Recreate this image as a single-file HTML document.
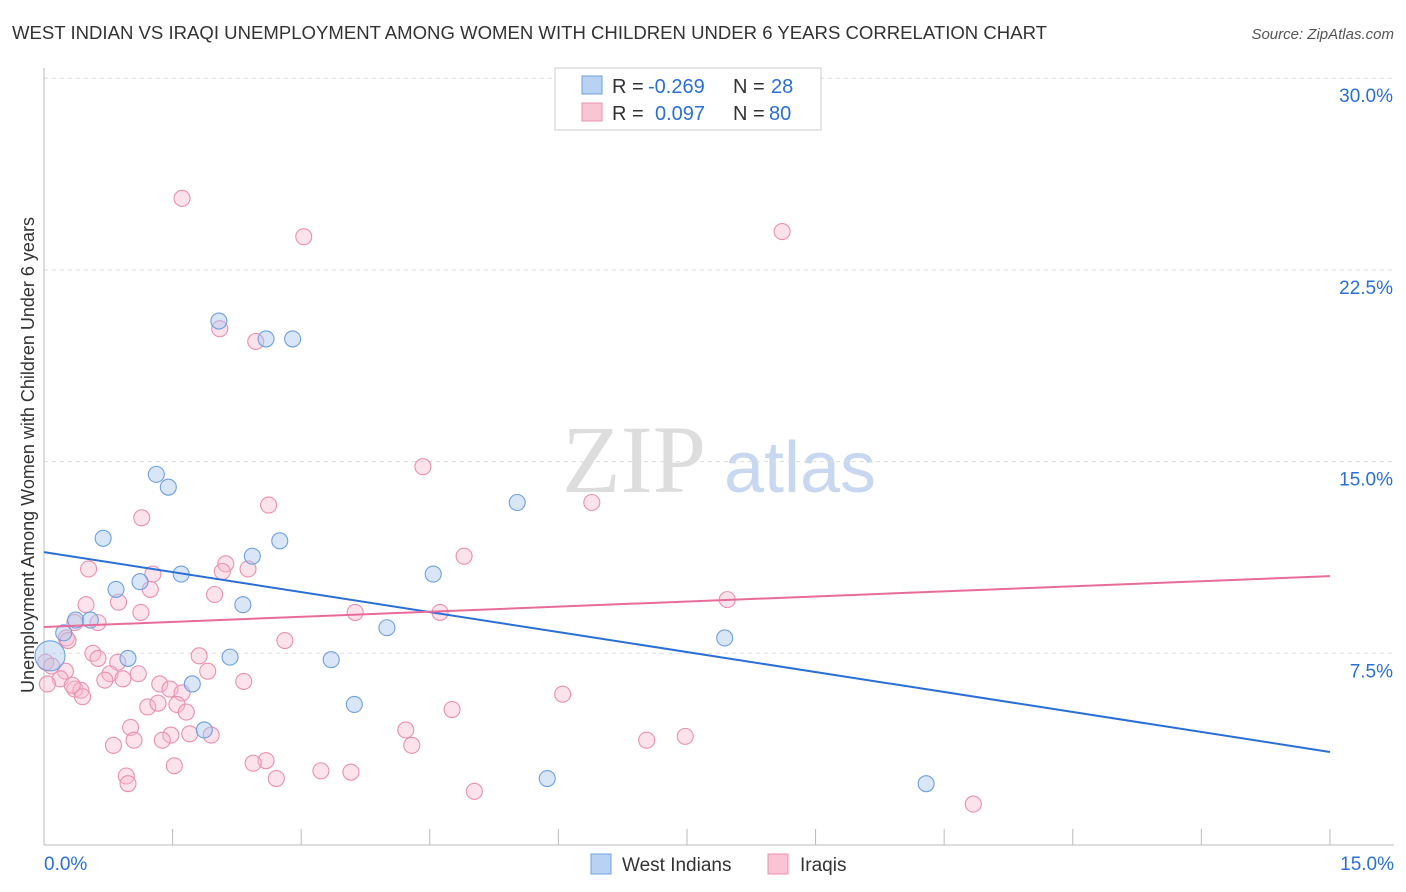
<!DOCTYPE html>
<html><head><meta charset="utf-8"><style>
body{margin:0;background:#fff;font-family:"Liberation Sans",sans-serif;}
#wrap{position:relative;width:1406px;height:892px;overflow:hidden}
</style></head><body>
<div id="wrap">
<svg id="svg" width="1406" height="892" xmlns="http://www.w3.org/2000/svg">
<text x="12" y="39" font-size="18.5" fill="#333" textLength="1035" lengthAdjust="spacingAndGlyphs">WEST INDIAN VS IRAQI UNEMPLOYMENT AMONG WOMEN WITH CHILDREN UNDER 6 YEARS CORRELATION CHART</text>
<text x="1394" y="39" font-size="15" fill="#555" font-style="italic" text-anchor="end">Source: ZipAtlas.com</text>
<text x="634" y="492" font-size="96" fill="#ddd" font-family="Liberation Serif,serif" text-anchor="middle">ZIP</text>
<text x="800" y="492" font-size="72" fill="#c8d8f0" text-anchor="middle">atlas</text>
<text transform="translate(34,455) rotate(-90)" font-size="18" fill="#333" text-anchor="middle">Unemployment Among Women with Children Under 6 years</text>
<g id="grid"></g><g id="pts"></g><g id="lines"></g>
<g>
<rect x="555" y="68" width="266" height="62" fill="#fff" stroke="#ccc"/>
<rect x="582" y="76" width="20" height="18" fill="#b8d2f4" stroke="#6ea0e0"/>
<rect x="582" y="103" width="20" height="18" fill="#f9c4d4" stroke="#e890b0"/>
<text x="612" y="93" font-size="20" fill="#333">R =</text>
<text x="648" y="93" font-size="20" fill="#2a6fd6">-0.269</text>
<text x="733" y="93" font-size="20" fill="#333">N =</text>
<text x="771" y="93" font-size="20" fill="#2a6fd6">28</text>
<text x="612" y="120" font-size="20" fill="#333">R =</text>
<text x="655" y="120" font-size="20" fill="#2a6fd6">0.097</text>
<text x="733" y="120" font-size="20" fill="#333">N =</text>
<text x="769" y="120" font-size="20" fill="#2a6fd6">80</text>
</g>
<g>
<rect x="591" y="854" width="20" height="20" fill="#b8d2f4" stroke="#6ea0e0"/>
<text x="622" y="871" font-size="19" fill="#333">West Indians</text>
<rect x="768" y="854" width="20" height="20" fill="#f9c4d4" stroke="#e890b0"/>
<text x="800" y="871" font-size="19" fill="#333">Iraqis</text>
</g>
</svg></div>
<script>
const xTicks=[0,1.5,3,4.5,6,7.5,9,10.5,12,13.5,15];
const yTicks=[7.5,15,22.5,30];
const yTickLabels=["7.5%","15.0%","22.5%","30.0%"];
const blueX=[2.04,2.59,2.90,1.31,1.45,5.52,0.69,2.75,2.43,1.60,4.54,0.84,1.12,2.32,0.37,0.54,0.23,4.00,7.94,0.07,0.98,2.17,3.35,1.73,3.62,1.87,5.87,10.29];
const blueY=[20.5,19.8,19.8,14.5,14.0,13.4,12.0,11.9,11.3,10.6,10.6,10.0,10.3,9.4,8.8,8.8,8.3,8.5,8.1,7.4,7.3,7.35,7.25,6.3,5.5,4.5,2.6,2.4];
const pinkX=[1.61,3.03,8.61,2.05,2.47,4.42,6.39,2.62,1.14,4.90,2.12,0.52,2.38,1.27,2.08,1.24,0.87,1.99,0.49,1.13,7.97,3.63,4.62,0.36,0.63,0.26,0.28,2.81,0.57,0.63,0.86,1.81,0.02,0.09,0.25,0.77,1.10,0.19,0.71,0.92,1.91,1.35,2.33,0.36,1.47,0.43,1.61,0.33,0.45,6.05,1.21,1.33,1.55,1.66,4.76,1.01,4.22,1.48,1.70,1.95,1.05,1.38,0.81,4.29,7.03,7.48,2.59,2.44,0.96,3.23,3.58,0.98,1.52,2.71,5.02,10.84,0.04];
const pinkY=[25.3,23.8,24.0,20.2,19.7,14.8,13.4,13.3,12.8,11.3,11.0,10.8,10.8,10.6,10.7,10.0,9.5,9.8,9.4,9.1,9.6,9.1,9.1,8.7,8.7,8.1,8.0,8.0,7.5,7.3,7.15,7.4,7.15,7.0,6.8,6.7,6.7,6.5,6.45,6.5,6.8,6.3,6.4,6.1,6.1,6.05,5.95,6.25,5.8,5.9,5.4,5.55,5.5,5.2,5.3,4.6,4.5,4.3,4.35,4.3,4.1,4.1,3.9,3.9,4.1,4.25,3.3,3.2,2.7,2.9,2.85,2.4,3.1,2.6,2.1,1.6,6.3];
const blueLine=[11.46,3.64], pinkLine=[8.53,10.52];
const X=v=>44+v*85.73, Y=v=>845-v*25.56;
const NS="http://www.w3.org/2000/svg";
function mk(p,t,a){const e=document.createElementNS(NS,t);for(const k in a)e.setAttribute(k,a[k]);p.appendChild(e);return e;}
const grid=document.getElementById('grid');
yTicks.forEach((t,i)=>{
 const l=mk(grid,'line',{x1:44,x2:1394,y1:Y(t),y2:Y(t),stroke:'#ddd','stroke-dasharray':'4,4'});
 
 
 const tx=mk(grid,'text',{x:1393,y:Y(t)+24,'font-size':19,fill:'#2a6fd6','text-anchor':'end'});tx.textContent=yTickLabels[i];
 
 
});
const ax=mk(grid,'line',{x1:44,x2:1394,y1:845,y2:845,stroke:'#bbb'});


const ay=mk(grid,'line',{x1:44,x2:44,y1:68,y2:845,stroke:'#bbb'});


xTicks.forEach(t=>{const l=mk(grid,'line',{x1:X(t),x2:X(t),y1:829,y2:845,stroke:'#bbb'});
 
 });
[[0,'0.0%','start',44],[15,'15.0%','end',1394]].forEach(a=>{const t=mk(grid,'text',{x:a[3],y:870,'font-size':19,fill:'#2a6fd6','text-anchor':a[2]});t.textContent=a[1];
 
 });
const pts=document.getElementById('pts');
pinkX.forEach((x,i)=>{const c=mk(pts,'circle',{cx:X(x),cy:Y(pinkY[i]),r:8,fill:'#f7b8cc','fill-opacity':0.4,stroke:'#e890b0','stroke-width':1.1});
 
 });
blueX.forEach((x,i)=>{const c=mk(pts,'circle',{cx:X(x),cy:Y(blueY[i]),r:i==19?15:8,fill:'#a8c8f0','fill-opacity':0.45,stroke:'#6ea0e0','stroke-width':1.1});
 
 });
const lines=document.getElementById('lines');
const bl=mk(lines,'line',{x1:X(0),y1:Y(blueLine[0]),x2:X(15),y2:Y(blueLine[1]),stroke:'#2a6fd6','stroke-width':2});


const pl=mk(lines,'line',{x1:X(0),y1:Y(pinkLine[0]),x2:X(15),y2:Y(pinkLine[1]),stroke:'#e86c9a','stroke-width':2});


</script>
</body></html>
